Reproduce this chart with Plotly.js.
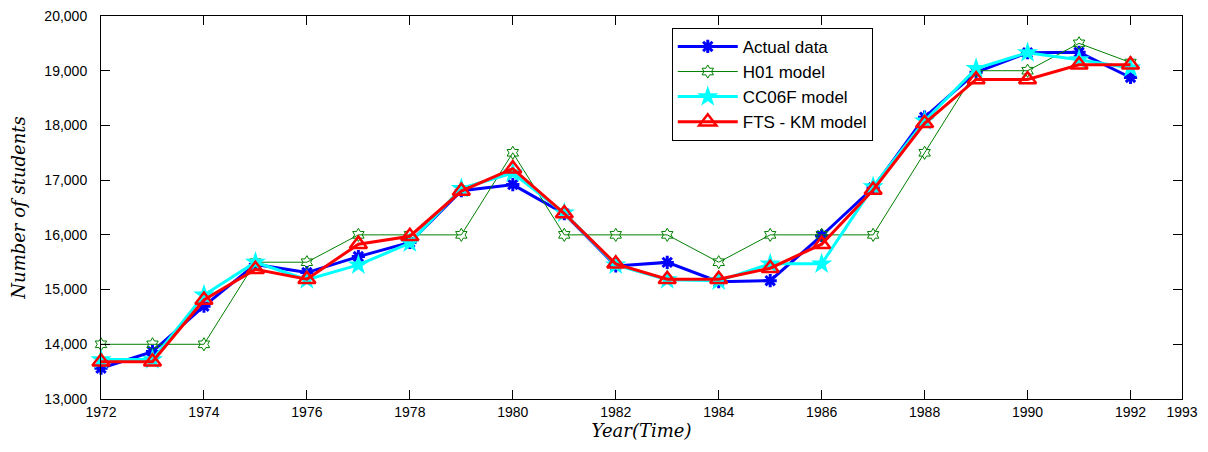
<!DOCTYPE html>
<html>
<head>
<meta charset="utf-8">
<script src="https://cdn.plot.ly/plotly-3.0.1.min.js"></script>
<style>html,body{margin:0;padding:0;background:#fff;}#chart{width:1208px;height:452px;}</style>
</head>
<body>
<div id="chart"></div>
<script>
const years = [1972,1973,1974,1975,1976,1977,1978,1979,1980,1981,1982,1983,1984,1985,1986,1987,1988,1989,1990,1991,1992];
const actualData = [13563,13867,14696,15460,15311,15603,15861,16807,16919,16388,15433,15497,15145,15163,15984,16859,18150,18970,19328,19337,18876];
const h01Model = [14000,14000,14000,15500,15500,16000,16000,16000,17500,16000,16000,16000,15500,16000,16000,16000,17500,19000,19000,19500,19150];
const cc06fModel = [13720,13720,14900,15500,15180,15450,15850,16850,17130,16400,15450,15180,15160,15470,15470,16880,18080,19040,19330,19200,19050];
const ftsKmModel = [13680,13680,14810,15370,15190,15830,15975,16800,17210,16390,15470,15190,15190,15390,15830,16820,18040,18840,18840,19110,19110];
const seriesNames = ['Actual data','H01 model','CC06F model','FTS - KM model'];
const xTicks = [1972,1974,1976,1978,1980,1982,1984,1986,1988,1990,1992,1993];
const yTicks = [13000,14000,15000,16000,17000,18000,19000,20000];

const traces = [
  {x: years, y: actualData, name: seriesNames[0], mode: 'lines+markers', cliponaxis: false,
   line: {color: '#0000ff', width: 3},
   marker: {symbol: 'asterisk-open', size: 11, color: '#0000ff', line: {color: '#0000ff', width: 3}}},
  {x: years, y: h01Model, name: seriesNames[1], mode: 'lines+markers', cliponaxis: false,
   line: {color: '#008000', width: 1},
   marker: {symbol: 'hexagram-open', size: 10, color: '#008000', line: {color: '#008000', width: 1}}},
  {x: years, y: cc06fModel, name: seriesNames[2], mode: 'lines+markers', cliponaxis: false,
   line: {color: '#00ffff', width: 3},
   marker: {symbol: 'star', size: 16, color: '#00ffff', line: {color: '#00ffff', width: 0}}},
  {x: years, y: ftsKmModel, name: seriesNames[3], mode: 'lines+markers', cliponaxis: false,
   line: {color: '#ff0000', width: 3},
   marker: {symbol: 'triangle-up-open', size: 15, color: '#ff0000', line: {color: '#ff0000', width: 2.5}}}
];

const axisFont = {family: 'Liberation Sans, Arial, sans-serif', size: 14, color: '#000'};
const titleFont = {family: 'DejaVu Serif, serif', size: 18, color: '#000', style: 'italic'};
const layout = {
  width: 1208, height: 452,
  margin: {l: 101, r: 26, t: 16, b: 53},
  paper_bgcolor: '#fff', plot_bgcolor: '#fff',
  showlegend: true,
  xaxis: {
    range: [1972, 1993], tickvals: xTicks, ticktext: xTicks.map(String),
    ticks: 'inside', ticklen: 9, tickwidth: 1, tickcolor: '#000',
    showline: true, linecolor: '#000', linewidth: 1, mirror: 'ticks',
    showgrid: false, zeroline: false, tickfont: axisFont,
    title: {text: 'Year(Time)', font: titleFont, standoff: 2}
  },
  yaxis: {
    range: [13000, 20000], tickvals: yTicks, tickformat: ',d',
    ticks: 'inside', ticklen: 9, tickwidth: 1, tickcolor: '#000',
    showline: true, linecolor: '#000', linewidth: 1, mirror: 'ticks',
    showgrid: false, zeroline: false, tickfont: axisFont, ticklabelstandoff: 10,
    title: {text: 'Number of students', font: titleFont, standoff: 14}
  },
  legend: {
    x: 0.528, y: 0.969, xanchor: 'left', yanchor: 'top',
    bgcolor: '#fff', bordercolor: '#000', borderwidth: 1,
    font: {family: 'Liberation Sans, Arial, sans-serif', size: 17, color: '#000'},
    tracegroupgap: 0, itemwidth: 60
  }
};
Plotly.newPlot('chart', traces, layout, {displayModeBar: false, staticPlot: true});
</script>
</body>
</html>
